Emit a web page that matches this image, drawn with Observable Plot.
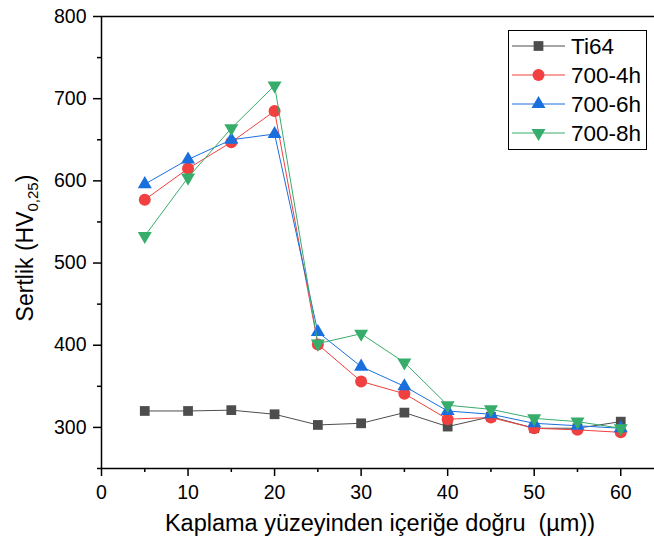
<!DOCTYPE html>
<html><head><meta charset="utf-8">
<script src="https://cdn.jsdelivr.net/npm/d3@7"></script>
<script src="https://cdn.jsdelivr.net/npm/@observablehq/plot@0.6"></script>
<style>
body{margin:0;background:#fff}
#chart{position:relative;width:654px;height:540px}
</style>
</head><body><div id="chart"></div>
<script>
const depth = [5,10,15,20,25,30,35,40,45,50,55,60];
const ti64  = [320,320,321,316,303,305,318,301,313,299,299,307];
const h4    = [577,615,647,685,401,356,341,310,312,299,297,294];
const h6    = [596,626,650,657,416,374,350,320,316,305,302,299];
const h8    = [533,604,664,716,402,414,379,327,322,311,307,299];
const seriesNames   = ["Ti64","700-4h","700-6h","700-8h"];
const seriesValues  = [ti64,h4,h6,h8];
const seriesColors  = ["#4d4d4d","#F14040","#1A6FDF","#37AD6B"];
const seriesSymbols = ["square","circle","triangle","triangle"];
const seriesRotate  = [0,0,0,180];
const seriesR       = [5.5,6,5.2,5.2];
const xTicks = [0,10,20,30,40,50,60];
const xMinor = [5,15,25,35,45,55];
const yTicks = [300,400,500,600,700,800];
const yMinor = [250,350,450,550,650,750];
const xTitle = "Kaplama yüzeyinden içeriğe doğru  (µm))";

const font = "'Liberation Sans', Arial, sans-serif";
const marks = [];
seriesNames.forEach((name,i)=>{
  const rows = depth.map((d,j)=>({depth:d, hv:seriesValues[i][j], series:name}));
  marks.push(Plot.line(rows,{x:"depth",y:"hv",stroke:seriesColors[i],strokeWidth:1}));
  marks.push(Plot.dot(rows,{x:"depth",y:"hv",symbol:seriesSymbols[i],r:seriesR[i],fill:seriesColors[i],stroke:"none",rotate:seriesRotate[i]}));
});

const chart = Plot.plot({
  width:654, height:540,
  marginLeft:101, marginRight:0, marginTop:16, marginBottom:72,
  style:{fontFamily:font, color:"#000", background:"#fff"},
  x:{domain:[0,63.9]},
  y:{domain:[250,800]},
  marks:[
    Plot.axisX({ticks:xTicks, tickSize:8, tickPadding:9, fontSize:19.5, strokeWidth:1.5, label:null}),
    Plot.axisX({ticks:xMinor, tickSize:4, tickFormat:()=>"", strokeWidth:1.5, label:null}),
    Plot.axisY({ticks:yTicks, tickSize:8, tickPadding:7, fontSize:19.5, strokeWidth:1.5, label:null}),
    Plot.axisY({ticks:yMinor, tickSize:4, tickFormat:()=>"", strokeWidth:1.5, label:null}),
    Plot.ruleX([0],{strokeWidth:1.5}),
    Plot.ruleY([250],{strokeWidth:1.5}),
    Plot.ruleY([800],{strokeWidth:1.5}),
    ...marks
  ]
});

const svg = d3.select(chart);
// x title
svg.append("text").attr("x",380).attr("y",531).attr("text-anchor","middle")
  .style("font-size","23.5px").style("font-family",font).attr("fill","#000").text(xTitle);
// y title with subscript
const yt = svg.append("text").attr("transform","translate(33,248) rotate(-90)")
  .attr("text-anchor","middle").style("font-size","23px").style("font-family",font).attr("fill","#000");
yt.append("tspan").text("Sertlik (HV");
yt.append("tspan").style("font-size","15px").attr("dy",5).text("0,25");
yt.append("tspan").attr("dy",-5).text(")");

// legend
const lg = svg.append("g");
lg.append("rect").attr("x",508.5).attr("y",30.5).attr("width",138).attr("height",119)
  .attr("fill","#fff").attr("stroke","#000").attr("stroke-width",1);
const rowY = [46,75,104,133];
seriesNames.forEach((name,i)=>{
  const g = lg.append("g");
  g.append("line").attr("x1",512).attr("x2",565).attr("y1",rowY[i]).attr("y2",rowY[i])
    .attr("stroke",seriesColors[i]).attr("stroke-width",1);
  const sym = {square:d3.symbolSquare,circle:d3.symbolCircle,triangle:d3.symbolTriangle}[seriesSymbols[i]];
  g.append("path").attr("d",d3.symbol(sym, Math.PI*seriesR[i]*seriesR[i])())
    .attr("transform",`translate(538.5,${rowY[i]}) rotate(${seriesRotate[i]})`)
    .attr("fill",seriesColors[i]);
  g.append("text").attr("x",571).attr("y",rowY[i]+8).attr("text-anchor","start")
    .style("font-size","22.5px").style("font-family",font).attr("fill","#000").text(name);
});

document.getElementById("chart").appendChild(chart);
</script>
</body></html>
